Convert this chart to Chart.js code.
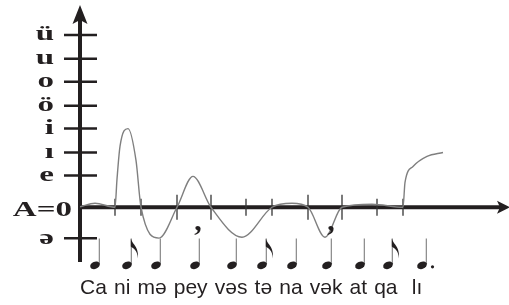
<!DOCTYPE html>
<html>
<head>
<meta charset="utf-8">
<script src="https://cdn.jsdelivr.net/npm/chart.js@4.4.0/dist/chart.umd.min.js"></script>
<style>
  html, body { margin: 0; padding: 0; background: #fff; }
  #wrap { width: 509px; height: 305px; position: relative; }
</style>
</head>
<body>
<div id="wrap"><canvas id="pitchChart"></canvas></div>
<script>
// vowel levels on the vertical axis, bottom to top
const levelLabels = ["ə", "A=0", "e", "ı", "i", "ö", "o", "u", "ü"];
const levelValues = [-1.32, 0, 1.36, 2.34, 3.36, 4.34, 5.36, 6.34, 7.36];

// melody curve (time position, pitch level)
const curveX = [0, 15, 35, 37, 40, 48, 56, 61, 79, 97, 113, 131, 162, 192, 212, 228, 245, 262, 292, 323, 325, 333, 347, 363];
const curveY = [0.02, 0.17, 0, 1.2, 2.6, 3.36, 2.0, 0, -1.32, 0, 1.32, 0, -1.28, 0, 0.17, 0, -1.28, 0, 0.13, 0, 1.06, 1.74, 2.17, 2.34];

// syllable boundaries on the time axis
const majorMarks = [97, 131, 228, 262];
const minorMarks = [35, 61, 166, 192, 297, 323];

// breath marks
const pauseX = [118, 251];
const pauseLevel = -0.98;

// notes and lyrics
const noteX = [15, 47, 76, 115, 152, 182, 212, 247, 280, 308, 342];
const noteType = ["q", "e", "q", "q", "q", "e", "q", "q", "q", "e", "dq"];
const syllables = ["Ca", "ni", "mə", "pey", "vəs", "tə", "na", "vək", "at", "qa", " lı"];

const ink = "#231f20";

const spacingPlugin = {
    id: "lyricSpacing",
    beforeDraw(chart) { chart.ctx.wordSpacing = "1.3px"; },
    afterDraw(chart) { chart.ctx.wordSpacing = "0px"; },
};

const axesPlugin = {
    id: "pitchAxes",
    beforeDatasetsDraw(chart) {
        const { ctx, chartArea } = chart;
        const { x, y } = chart.scales;
        const x0 = x.getPixelForValue(0);
        const y0 = y.getPixelForValue(0);
        ctx.save();
        ctx.strokeStyle = ink;
        ctx.fillStyle = ink;

        // level ticks
        ctx.lineWidth = 2.5;
        levelValues.forEach((v) => {
            if (v === 0) return;
            const py = y.getPixelForValue(v);
            ctx.beginPath();
            ctx.moveTo(x0 - 16, py);
            ctx.lineTo(x0 + 17, py);
            ctx.stroke();
        });

        // vertical axis + arrow
        ctx.lineWidth = 4;
        ctx.beginPath();
        ctx.moveTo(x0, chartArea.bottom);
        ctx.lineTo(x0, chartArea.top + 14);
        ctx.stroke();
        ctx.beginPath();
        ctx.moveTo(x0, chartArea.top);
        ctx.lineTo(x0 + 7.5, chartArea.top + 19);
        ctx.lineTo(x0, chartArea.top + 15);
        ctx.lineTo(x0 - 7.5, chartArea.top + 19);
        ctx.closePath();
        ctx.fill();

        // horizontal axis + arrow
        ctx.beginPath();
        ctx.moveTo(x0, y0);
        ctx.lineTo(chartArea.right - 9, y0);
        ctx.stroke();
        ctx.beginPath();
        ctx.moveTo(chartArea.right + 1, y0);
        ctx.lineTo(chartArea.right - 12, y0 - 6.5);
        ctx.lineTo(chartArea.right - 9, y0);
        ctx.lineTo(chartArea.right - 12, y0 + 6.5);
        ctx.closePath();
        ctx.fill();

        // syllable marks
        ctx.strokeStyle = "#333";
        ctx.lineWidth = 1.3;
        const mark = (v, h) => {
            const px = x.getPixelForValue(v);
            ctx.beginPath();
            ctx.moveTo(px, y0 - h);
            ctx.lineTo(px, y0 + h);
            ctx.stroke();
        };
        majorMarks.forEach((v) => mark(v, 12.5));
        minorMarks.forEach((v) => mark(v, 8.5));

        // level labels
        ctx.font = 'bold 22px "Liberation Serif", serif';
        ctx.textAlign = "right";
        ctx.textBaseline = "alphabetic";
        levelLabels.forEach((t, i) => {
            const py = y.getPixelForValue(levelValues[i]);
            const isZero = levelValues[i] === 0;
            ctx.save();
            ctx.translate(isZero ? x0 - 8 : x0 - 26, isZero ? py + 9 : py + 5.5);
            ctx.scale(1.5, 1);
            ctx.fillText(t, 0, 0);
            ctx.restore();
        });
        ctx.restore();
    },
    afterDatasetsDraw(chart) {
        const { ctx } = chart;
        const { x, y } = chart.scales;
        const headY = y.getPixelForValue(-2.48);
        const stemTop = y.getPixelForValue(-1.34);
        ctx.save();
        noteX.forEach((v, i) => {
            const px = x.getPixelForValue(v);
            const sx = px + 4.3;
            ctx.strokeStyle = "#7d7d7d";
            ctx.lineWidth = 1.1;
            ctx.beginPath();
            ctx.moveTo(sx, headY - 1);
            ctx.lineTo(sx, stemTop);
            ctx.stroke();

            ctx.fillStyle = ink;
            ctx.beginPath();
            ctx.ellipse(px, headY, 5, 3.6, -0.4, 0, Math.PI * 2);
            ctx.fill();

            if (noteType[i] === "e") {
                ctx.beginPath();
                ctx.moveTo(sx - 0.5, stemTop);
                ctx.bezierCurveTo(sx + 1, stemTop + 6, sx + 8, stemTop + 8, sx + 6.5, stemTop + 20);
                ctx.bezierCurveTo(sx + 6, stemTop + 11, sx + 2, stemTop + 10, sx - 0.5, stemTop + 8);
                ctx.closePath();
                ctx.fill();
            }
            if (noteType[i] === "dq") {
                ctx.beginPath();
                ctx.arc(px + 10.5, headY + 1.5, 1.6, 0, Math.PI * 2);
                ctx.fill();
            }
        });

        ctx.fillStyle = ink;
        ctx.font = 'bold 30px "Liberation Serif", serif';
        ctx.textAlign = "center";
        ctx.textBaseline = "alphabetic";
        pauseX.forEach((v) => {
            ctx.fillText(",", x.getPixelForValue(v), y.getPixelForValue(pauseLevel));
        });
        ctx.restore();
    },
};

const ctx = document.getElementById("pitchChart").getContext("2d");

new Chart(ctx, {
    type: "line",
    data: {
        datasets: [
            {
                data: curveX.map((v, i) => ({ x: v, y: curveY[i] })),
                borderColor: "#7f7f7f",
                borderWidth: 1.4,
                pointRadius: 0,
                fill: false,
                cubicInterpolationMode: "monotone",
            },
        ],
    },
    options: {
        responsive: true,
        maintainAspectRatio: false,
        animation: false,
        layout: { padding: { left: 80, top: 5, right: 0, bottom: 0 } },
        scales: {
            x: { type: "linear", min: 0, max: 429, display: false },
            y: { type: "linear", min: -2.34, max: 8.64, display: false },
        },
        plugins: {
            legend: { display: false },
            tooltip: { enabled: false },
            title: {
                display: true,
                position: "bottom",
                align: "start",
                text: syllables.join(" "),
                color: ink,
                font: { family: '"Liberation Sans", Arial, sans-serif', size: 21, weight: "normal" },
                padding: { top: 14, bottom: 3.8 },
            },
        },
    },
    plugins: [spacingPlugin, axesPlugin],
});
</script>
</body>
</html>
